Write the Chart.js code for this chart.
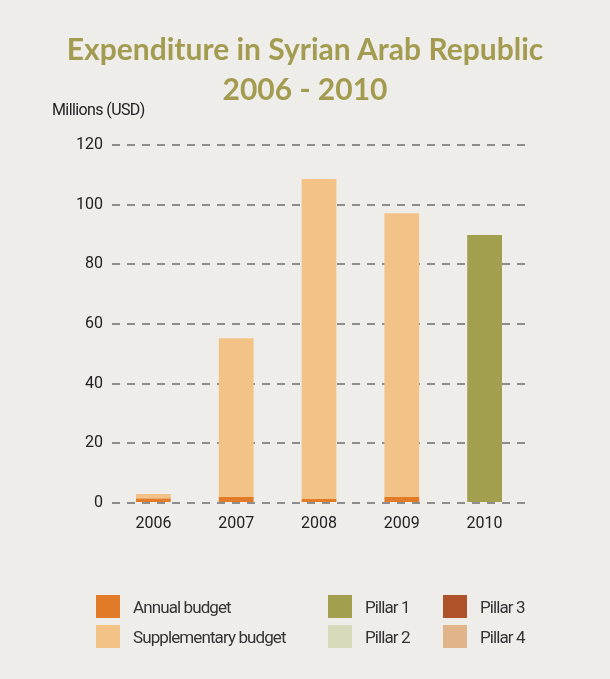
<!DOCTYPE html>
<html>
<head>
<meta charset="utf-8">
<script src="https://cdn.jsdelivr.net/npm/chart.js@4"></script>
<style>
  html, body { margin:0; padding:0; }
  body { width:610px; height:679px; background:#efedea; position:relative; overflow:hidden;
         font-family:"Roboto",sans-serif; }
  #wrap { position:absolute; left:0; top:0; width:610px; height:679px; }
  #title { position:absolute; left:0; width:610px; top:28px; text-align:center; color:#a29b50;
           font-family:"Lato","Open Sans",sans-serif; font-weight:700; font-size:30px; line-height:40px; }
  #ylabel { position:absolute; left:52px; top:100px; font-size:16px; color:#222; letter-spacing:-0.6px; }
  #legend { position:absolute; left:0; top:0; width:610px; height:679px; pointer-events:none; }
  .li { position:absolute; display:flex; align-items:center; font-size:17px; color:#333; letter-spacing:-0.9px; }
  .sw { width:24px; height:23px; margin-right:13px; }
</style>
</head>
<body>
<div id="wrap"><canvas id="c" width="610" height="679"></canvas></div>
<div id="title">Expenditure in Syrian Arab Republic<br>2006 - 2010</div>
<div id="ylabel">Millions (USD)</div>
<div id="legend"></div>
<script>
const categories = ["2006", "2007", "2008", "2009", "2010"];
const annualBudget = [1.5, 2.0, 1.3, 2.0, 0];
const supplementaryBudget = [1.5, 53.2, 107.3, 95.1, 0];
const pillar1 = [0, 0, 0, 0, 89.8];
const pillar2 = [0, 0, 0, 0, 0];
const pillar3 = [0, 0, 0, 0, 0];
const pillar4 = [0, 0, 0, 0, 0];
const yTicks = [0, 20, 40, 60, 80, 100, 120];

const series = [
  { label: "Annual budget", data: annualBudget, color: "#e27b27" },
  { label: "Supplementary budget", data: supplementaryBudget, color: "#f3c287" },
  { label: "Pillar 1", data: pillar1, color: "#a29f4e" },
  { label: "Pillar 2", data: pillar2, color: "#d7dabb" },
  { label: "Pillar 3", data: pillar3, color: "#ae5229" },
  { label: "Pillar 4", data: pillar4, color: "#e1b48a" }
];

const tickFont = { family: "Roboto", size: 16 };

const chart = new Chart(document.getElementById("c"), {
  type: "bar",
  data: {
    labels: categories,
    datasets: series.map(s => ({
      label: s.label, data: s.data, backgroundColor: s.color,
      borderWidth: 0, categoryPercentage: 1.0, barPercentage: 0.42
    }))
  },
  options: {
    responsive: false,
    animation: false,
    layout: { padding: { top: 145, left: 0, right: 84, bottom: 136 } },
    plugins: { legend: { display: false }, title: { display: false }, tooltip: { enabled: false } },
    scales: {
      x: {
        stacked: true,
        grid: { display: false },
        border: { display: false },
        ticks: { color: "#222", font: tickFont, padding: 3 },
        afterFit: s => { s.height = 40; }
      },
      y: {
        stacked: true,
        min: 0, max: 120,
        afterBuildTicks: s => { s.ticks = yTicks.map(v => ({ value: v })); },
        grid: { color: "#8d8d8d", lineWidth: 2, drawTicks: false, z: -1 },
        border: { display: false, dash: [8, 7] },
        ticks: { color: "#222", font: tickFont, padding: 9 },
        afterFit: s => { s.width = 112; }
      }
    }
  }
});

// HTML legend built from the chart's datasets (column-major, 2 rows)
const legendPos = [
  { x: 96, y: 595 }, { x: 96, y: 625 },
  { x: 328, y: 595 }, { x: 328, y: 625 },
  { x: 443, y: 595 }, { x: 443, y: 625 }
];
const lg = document.getElementById("legend");
chart.data.datasets.forEach((d, i) => {
  const el = document.createElement("div");
  el.className = "li";
  el.style.left = legendPos[i].x + "px";
  el.style.top = legendPos[i].y + "px";
  el.innerHTML = '<span class="sw" style="background:' + d.backgroundColor + '"></span><span>' + d.label + '</span>';
  lg.appendChild(el);
});
</script>
</body>
</html>
